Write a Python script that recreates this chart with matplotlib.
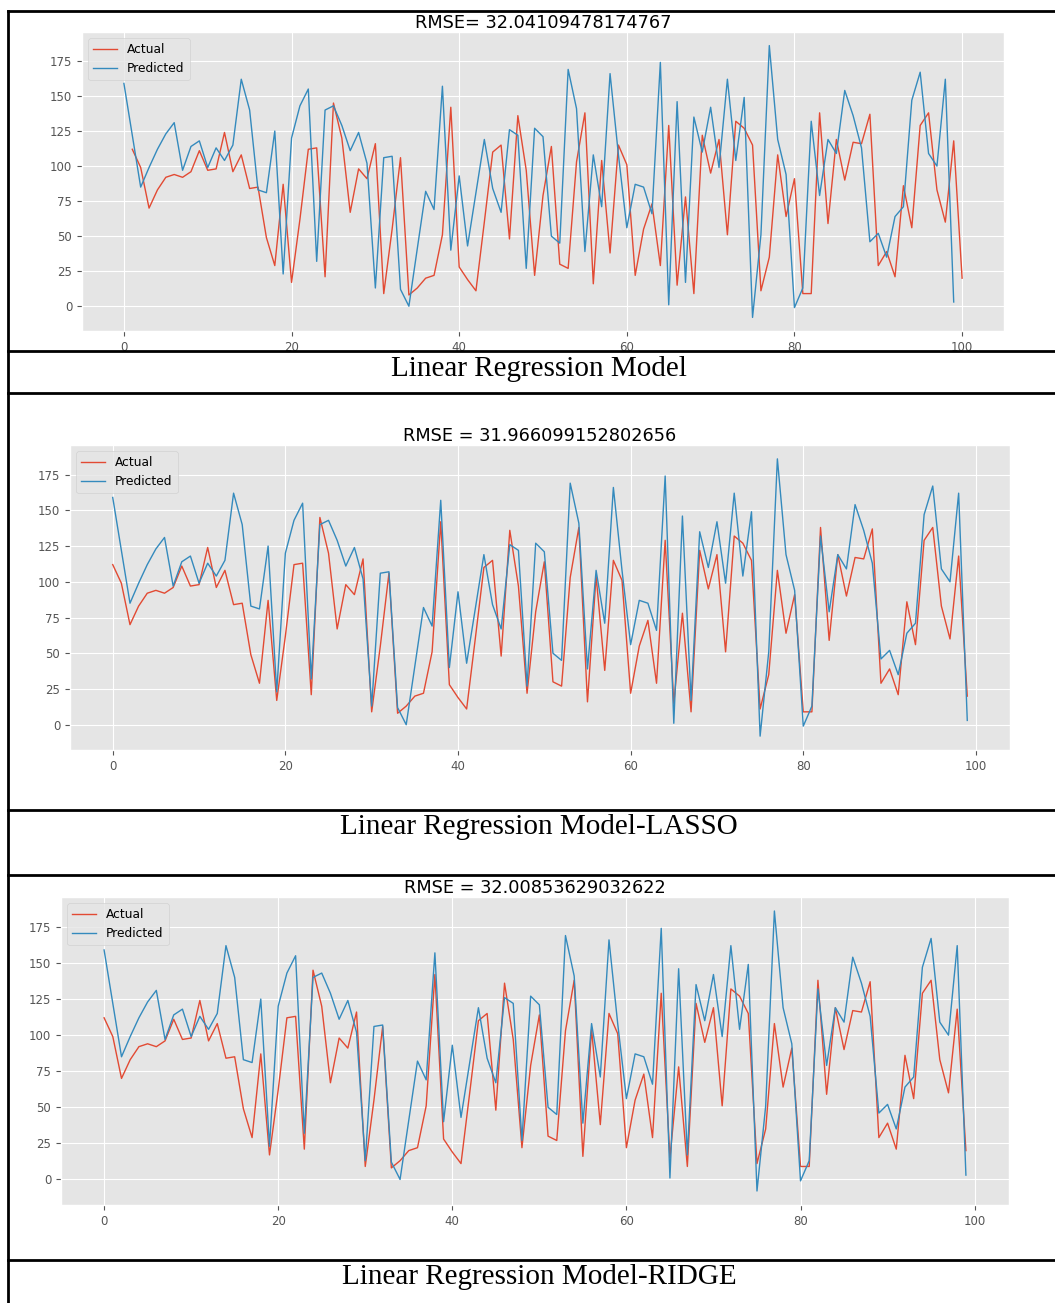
import matplotlib.pyplot as plt
from matplotlib.lines import Line2D

# 数据
actual = [112, 99, 70, 83, 92, 94, 92, 96, 111, 97,
          98, 124, 96, 108, 84, 85, 49, 29, 87, 17,
          62, 112, 113, 21, 145, 120, 67, 98, 91, 116,
          9, 55, 106, 8, 13, 20, 22, 51, 142, 28,
          19, 11, 60, 110, 115, 48, 136, 97, 22, 79,
          114, 30, 27, 103, 138, 16, 104, 38, 115, 101,
          22, 55, 73, 29, 129, 15, 78, 9, 122, 95,
          119, 51, 132, 127, 115, 11, 35, 108, 64, 91,
          9, 9, 138, 59, 119, 90, 117, 116, 137, 29,
          39, 21, 86, 56, 129, 138, 83, 60, 118, 20]

predicted = [159, 122, 85, 99, 112, 123, 131, 97, 114, 118,
             99, 113, 104, 115, 162, 140, 83, 81, 125, 23,
             120, 143, 155, 32, 140, 143, 129, 111, 124, 102,
             13, 106, 107, 12, 0, 41, 82, 69, 157, 40,
             93, 43, 81, 119, 84, 67, 126, 122, 27, 127,
             121, 50, 45, 169, 141, 39, 108, 71, 166, 108,
             56, 87, 85, 66, 174, 1, 146, 17, 135, 110,
             142, 99, 162, 104, 149, -8, 51, 186, 119, 94,
             -1, 13, 132, 79, 119, 109, 154, 136, 113, 46,
             52, 35, 64, 71, 147, 167, 109, 100, 162, 3]

titles = ['RMSE= 32.04109478174767',
          'RMSE = 31.966099152802656',
          'RMSE = 32.00853629032622']
captions = ['Linear Regression Model',
            'Linear Regression Model-LASSO',
            'Linear Regression Model-RIDGE']
# 第一幅图中实际值索引从1开始
actual_start = [1, 0, 0]

W, H = 1055, 1303
plt.style.use('ggplot')
fig = plt.figure(figsize=(W / 100, H / 100), dpi=100)
fig.patch.set_facecolor('white')

# 坐标轴位置（像素: 左, 右, 上, 下）
boxes = [(82, 1004, 32, 331), (70, 1010, 445, 750), (61, 1009, 897, 1205)]
cap_y = [369, 827, 1277]
cap_x = [539, 539, 539]

for k in range(3):
    l, r, t, b = boxes[k]
    ax = fig.add_axes([l / W, 1 - b / H, (r - l) / W, (b - t) / H])
    xa = [i + actual_start[k] for i in range(len(actual))]
    xp = list(range(len(predicted)))
    ax.plot(xa, actual, color='#E24A33', lw=1.0, label='Actual')
    ax.plot(xp, predicted, color='#348ABD', lw=1.0, label='Predicted')
    ax.set_title(titles[k], fontsize=12.8, pad=3, color='black')
    ax.tick_params(labelsize=8.5)
    ax.legend(loc='upper left', fontsize=8.8)
    fig.text(cap_x[k] / W, 1 - cap_y[k] / H, captions[k],
             family='Liberation Serif', fontsize=21,
             ha='center', va='center', color='black')

# 表格边框
for y in [11, 351, 393, 810, 875, 1260]:
    fig.add_artist(Line2D([8 / W, 1], [1 - y / H, 1 - y / H],
                          color='black', lw=2))
fig.add_artist(Line2D([8 / W, 8 / W], [1 - 11 / H, 0], color='black', lw=2))

fig.savefig('out.png', dpi=100)
